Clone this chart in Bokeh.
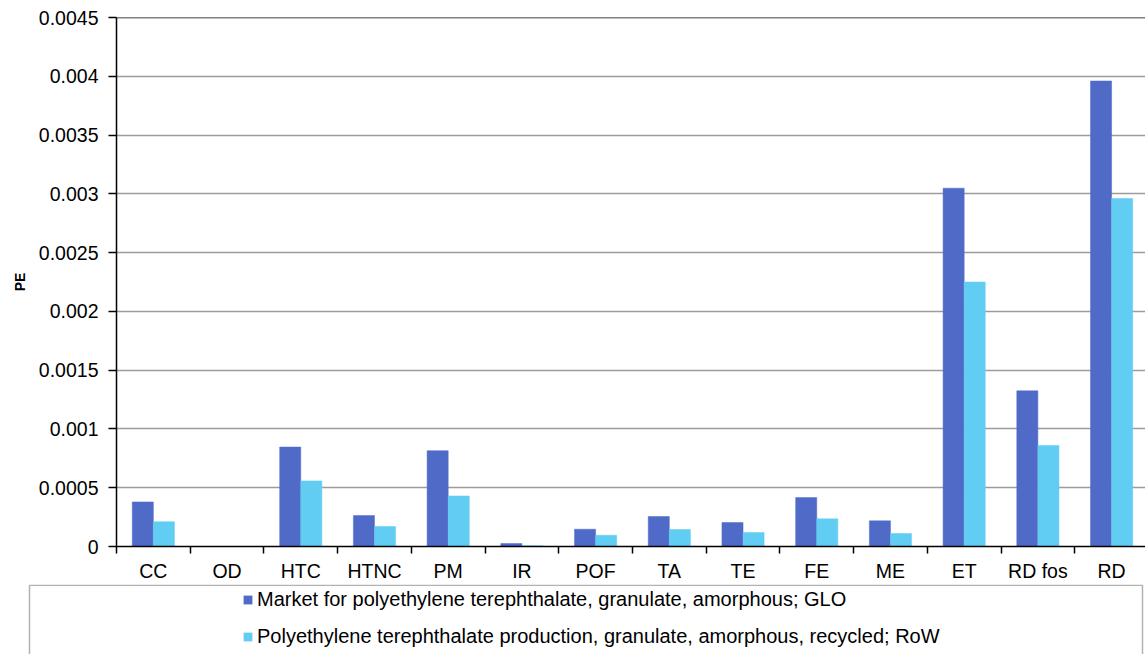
from bokeh.plotting import figure
from bokeh.models import (ColumnDataSource, Range1d, FixedTicker, Span, Legend,
                          LegendItem, BoxAnnotation)
from bokeh.core.properties import value
from bokeh.transform import dodge
from bokeh.layouts import column
from bokeh.embed import file_html
from bokeh.resources import INLINE

categories = ["CC", "OD", "HTC", "HTNC", "PM", "IR", "POF", "TA", "TE", "FE",
              "ME", "ET", "RD fos", "RD"]
series_names = [
    "Market for polyethylene terephthalate, granulate, amorphous; GLO",
    "Polyethylene terephthalate production, granulate, amorphous, recycled; RoW",
]
market_glo = [0.000379, 0.0, 0.000846, 0.000263, 0.000815, 0.000025, 0.000147,
              0.000255, 0.000204, 0.000416, 0.000218, 0.003048, 0.001324, 0.00396]
recycled_row = [0.00021, 0.0, 0.000558, 0.00017, 0.00043, 0.000006, 0.000096,
                0.000144, 0.000119, 0.000235, 0.00011, 0.00225, 0.00086, 0.00296]
y_ticks = [0, 0.0005, 0.001, 0.0015, 0.002, 0.0025, 0.003, 0.0035, 0.004, 0.0045]
y_tick_labels = ["0", "0.0005", "0.001", "0.0015", "0.002", "0.0025", "0.003",
                 "0.0035", "0.004", "0.0045"]
y_axis_title = "PE"

DARK = "#506AC8"
LIGHT = "#61CDF3"
FONT = "Liberation Sans"

centers = [i + 0.5 for i in range(len(categories))]
bounds = list(range(len(categories) + 1))

src = ColumnDataSource(dict(x=centers, cat=categories, v1=market_glo, v2=recycled_row))

p = figure(width=1145, height=584, x_range=Range1d(0, 13.96),
           y_range=Range1d(y_ticks[0], y_ticks[-1]),
           output_backend="svg", toolbar_location=None,
           min_border_left=116, min_border_right=0, min_border_top=17,
           min_border_bottom=37)
p.frame_align = False
p.outline_line_color = None
p.background_fill_color = "white"

r1 = p.vbar(x=dodge("x", -0.143, range=p.x_range), top="v1", width=0.286, bottom=0,
            source=src, fill_color=DARK, line_color=DARK, line_width=0.5)
r2 = p.vbar(x=dodge("x", 0.143, range=p.x_range), top="v2", width=0.286, bottom=0,
            source=src, fill_color=LIGHT, line_color=LIGHT, line_width=0.5)

# x axis: boundary ticks (minor), labels at centers
p.xaxis.ticker = FixedTicker(ticks=centers, minor_ticks=bounds)
p.xaxis.major_label_overrides = dict(zip(centers, categories))
p.xaxis.axis_label = None
p.xaxis.axis_label_standoff = 0
p.xaxis.major_tick_out = 0
p.xaxis.major_tick_in = 0
p.xaxis.minor_tick_in = 0
p.xaxis.minor_tick_out = 7
p.xaxis.minor_tick_line_color = "black"
p.xaxis.minor_tick_line_width = 1.5
p.xaxis.axis_line_color = "black"
p.xaxis.axis_line_width = 1.5
p.xaxis.major_label_standoff = 6
p.xaxis.major_label_text_font = FONT
p.xaxis.major_label_text_font_size = "19.5px"
p.xaxis.major_label_text_color = "black"

# y axis
p.yaxis.ticker = FixedTicker(ticks=y_ticks)
p.yaxis.major_label_overrides = dict(zip(y_ticks, y_tick_labels))
p.yaxis.major_tick_out = 8
p.yaxis.major_tick_in = 0
p.yaxis.major_tick_line_color = "black"
p.yaxis.major_tick_line_width = 1.5
p.yaxis.minor_tick_out = 0
p.yaxis.minor_tick_in = 0
p.yaxis.axis_line_color = "black"
p.yaxis.axis_line_width = 1.5
p.yaxis.major_label_standoff = 10
p.yaxis.major_label_text_font = FONT
p.yaxis.major_label_text_font_size = "19.5px"
p.yaxis.major_label_text_color = "black"
p.yaxis.axis_label = y_axis_title
p.yaxis.axis_label_text_font = FONT
p.yaxis.axis_label_text_font_style = "bold"
p.yaxis.axis_label_text_font_size = "14px"
p.yaxis.axis_label_text_color = "black"
p.yaxis.axis_label_standoff = 8

p.xgrid.visible = False
p.ygrid.ticker = FixedTicker(ticks=y_ticks)
p.ygrid.grid_line_color = "#9C9C9C"
p.ygrid.grid_line_width = 1.3

p.add_layout(Span(location=y_ticks[-1], dimension="width", line_color="black",
                  line_width=1.5))

# legend panel: its x range is kept away from the data so that only the legend
# keys of its two bar renderers are seen
OFF = 100
p2 = figure(width=1145, height=70, x_range=Range1d(OFF, OFF + 1145),
            y_range=Range1d(0, 70),
            output_backend="svg", toolbar_location=None,
            x_axis_location=None, y_axis_location=None,
            min_border_left=0, min_border_right=0, min_border_top=0,
            min_border_bottom=0)
p2.frame_align = False
p2.outline_line_color = None
p2.grid.visible = False
k1 = p2.vbar(x="x", top="v1", width=0.286, source=src, fill_color=DARK, line_color=None)
k2 = p2.vbar(x="x", top="v2", width=0.286, source=src, fill_color=LIGHT, line_color=None)
p2.add_layout(BoxAnnotation(left=OFF + 29, right=OFF + 1142, top=69.3, bottom=-50,
                            fill_alpha=0, line_color="black", line_width=1.5))
legend = Legend(items=[LegendItem(label=value(series_names[0]), renderers=[k1]),
                       LegendItem(label=value(series_names[1]), renderers=[k2])],
                location=(242, 6), orientation="vertical",
                glyph_width=11, glyph_height=11, label_standoff=4,
                label_text_font=FONT, label_text_font_size="20px",
                label_text_color="black", label_height=20,
                spacing=14, padding=0, margin=0,
                border_line_color=None, background_fill_alpha=0)
p2.add_layout(legend)

layout = column(p, p2, spacing=0)
open("out.html", "w").write(file_html(layout, INLINE))
